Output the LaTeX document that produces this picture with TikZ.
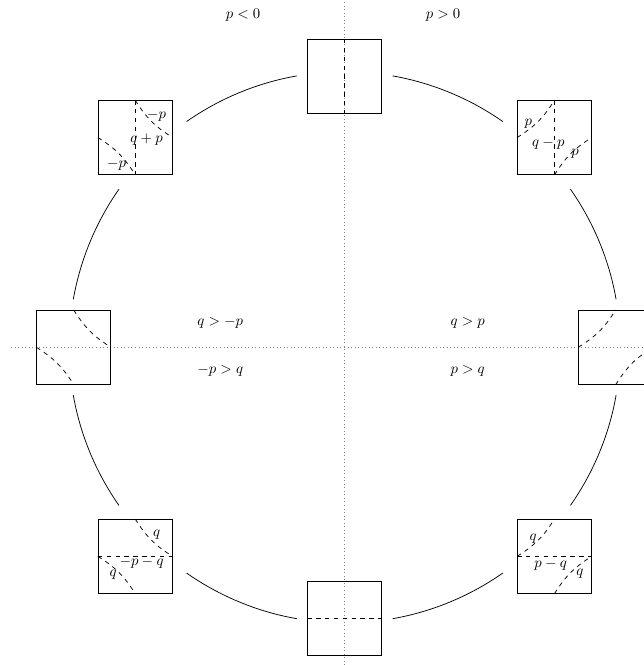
\documentclass[tikz,border=0pt]{standalone}
\begin{document}
\begin{tikzpicture}[x=0.6775pt,y=0.6775pt,
  tile/.style={draw, minimum size=50.1pt, inner sep=0pt, line width=0.5pt},
  cut/.style={dashed, line width=0.5pt},
  guide/.style={dotted, gray, line width=0.4pt},
  ring/.style={line width=0.5pt},
  lab/.style={inner sep=0pt}]
\clip (-344.7,-317.7) rectangle (299.3,347.3);
% guide lines
\coordinate (gt) at (0,347.3);
\coordinate (gb) at (0,-317.7);
\coordinate (gl) at (-333.7,0);
\coordinate (gr) at (333.7,0);
\draw[guide] (gb) -- (gt);
\draw[guide] (gl) -- (gr);
% arcs
\foreach \a in {10,55,100,145,190,235,280,325}
  \draw[ring] (\a:275.6) arc[start angle=\a, delta angle=25, radius=275.6];
% tiles
\node[tile] (n)  at (0,271) {};
\node[tile] (s)  at (0,-271) {};
\node[tile] (w)  at (-271,0) {};
\node[tile] (e)  at (271,0) {};
\node[tile] (nw) at (-209.5,209.8) {};
\node[tile] (ne) at (209.8,209.8) {};
\node[tile] (sw) at (-209.5,-209) {};
\node[tile] (se) at (209.8,-209) {};
% top tile
\draw[cut] (n.north) -- (n.south);
% bottom tile
\draw[cut] (s.west) -- (s.east);
% left tile
\draw[cut] (w.north) to[bend right=13] (w.east);
\draw[cut] (w.west) to[bend left=13] (w.south);
% right tile
\draw[cut] (e.west) to[bend right=13] (e.north);
\draw[cut] (e.south) to[bend left=13] (e.east);
% upper left tile
\draw[cut] (nw.north) -- (nw.south);
\draw[cut] (nw.north) to[bend right=13] (nw.east);
\draw[cut] (nw.west) to[bend left=13] (nw.south);
\node[lab] (nwa) at ([shift={(21.4,22.3)}]nw) {$-p$};
\node[lab] (nwb) at ([shift={(11.4,-2)}]nw) {$q+p$};
\node[lab] (nwc) at ([shift={(-18.6,-26.7)}]nw) {$-p$};
% upper right tile
\draw[cut] (ne.north) -- (ne.south);
\draw[cut] (ne.west) to[bend right=13] (ne.north);
\draw[cut] (ne.south) to[bend left=13] (ne.east);
\node[lab] (nea) at ([shift={(-26.2,14)}]ne) {$p$};
\node[lab] (neb) at ([shift={(-6.2,-6)}]ne) {$q-p$};
\node[lab] (nec) at ([shift={(20.5,-16)}]ne) {$p$};
% lower left tile
\draw[cut] (sw.west) -- (sw.east);
\draw[cut] (sw.north) to[bend right=13] (sw.east);
\draw[cut] (sw.west) to[bend left=13] (sw.south);
\node[lab] (swa) at ([shift={(21.4,21.3)}]sw) {$q$};
\node[lab] (swb) at ([shift={(6.4,-6.4)}]sw) {$-p-q$};
\node[lab] (swc) at ([shift={(-22,-18.7)}]sw) {$q$};
% lower right tile
\draw[cut] (se.west) -- (se.east);
\draw[cut] (se.west) to[bend right=13] (se.north);
\draw[cut] (se.south) to[bend left=13] (se.east);
\node[lab] (sea) at ([shift={(-21.2,18)}]se) {$q$};
\node[lab] (seb) at ([shift={(-3.8,-8.7)}]se) {$p-q$};
\node[lab] (sec) at ([shift={(25.5,-17)}]se) {$q$};
% region labels
\node[lab] (pl) at (-101.7,332.3) {$p<0$};
\node[lab] (pg) at (98.3,332.3) {$p>0$};
\node[lab] (r1) at (-124.4,24.6) {$q>-p$};
\node[lab] (r2) at (-124.4,-23.7) {$-p>q$};
\node[lab] (r3) at (123,24.6) {$q>p$};
\node[lab] (r4) at (123,-23.7) {$p>q$};
\end{tikzpicture}
\end{document}
